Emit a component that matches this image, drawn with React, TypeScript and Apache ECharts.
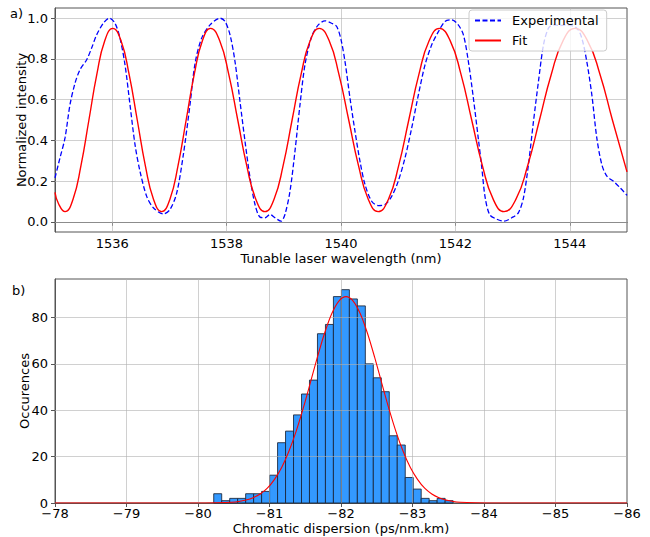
import React, { useEffect, useRef } from 'react';
import * as echarts from 'echarts';

// ---------- (a) Interference spectrum ----------
const expWavelength = [
  1535.0, 1535.087, 1535.175, 1535.262, 1535.35, 1535.437, 1535.554, 1535.64, 1535.728, 1535.845,
  1535.95, 1536.049, 1536.136, 1536.224, 1536.311, 1536.399, 1536.486, 1536.603, 1536.72, 1536.894,
  1537.01, 1537.128, 1537.244, 1537.36, 1537.45, 1537.564, 1537.71, 1537.885, 1537.972, 1538.06,
  1538.147, 1538.234, 1538.322, 1538.41, 1538.497, 1538.584, 1538.672, 1538.76, 1538.846, 1538.952,
  1539.02, 1539.108, 1539.195, 1539.283, 1539.37, 1539.487, 1539.603, 1539.72, 1539.837, 1539.925,
  1540.0, 1540.07, 1540.157, 1540.245, 1540.332, 1540.42, 1540.536, 1540.653, 1540.77, 1540.886,
  1541.0, 1541.119, 1541.236, 1541.353, 1541.469, 1541.586, 1541.703, 1541.818, 1541.935, 1542.05,
  1542.14, 1542.227, 1542.314, 1542.4, 1542.46, 1542.52, 1542.6, 1542.722, 1542.85, 1542.985,
  1543.1, 1543.19, 1543.277, 1543.365, 1543.452, 1543.54, 1543.627, 1543.714, 1543.83, 1543.947,
  1544.122, 1544.21, 1544.297, 1544.385, 1544.472, 1544.56, 1544.648, 1544.764, 1544.88, 1545.0,
];
const expIntensity = [
  0.216, 0.314, 0.412, 0.575, 0.681, 0.747, 0.796, 0.853, 0.918, 0.975,
  1.0, 0.975, 0.902, 0.771, 0.575, 0.379, 0.248, 0.125, 0.069, 0.039,
  0.06, 0.142, 0.33, 0.575, 0.78, 0.902, 0.967, 1.0, 0.984, 0.918,
  0.787, 0.591, 0.395, 0.216, 0.085, 0.023, 0.02, 0.036, 0.02, 0.003,
  0.036, 0.15, 0.346, 0.575, 0.771, 0.91, 0.967, 0.987, 0.975, 0.959,
  0.895, 0.787, 0.608, 0.444, 0.297, 0.183, 0.101, 0.08, 0.085, 0.125,
  0.199, 0.314, 0.461, 0.624, 0.771, 0.869, 0.934, 0.984, 0.992, 0.967,
  0.918, 0.787, 0.608, 0.41, 0.27, 0.12, 0.035, 0.013, 0.003, 0.02,
  0.044, 0.118, 0.281, 0.493, 0.689, 0.869, 0.951, 0.967, 0.964, 0.967,
  0.951, 0.902, 0.787, 0.624, 0.412, 0.281, 0.224, 0.199, 0.167, 0.13,
];

const fitWavelength = [
  1535.0, 1535.06, 1535.175, 1535.314, 1535.453, 1535.593, 1535.732, 1535.871,
  1536.01, 1536.153, 1536.295, 1536.438, 1536.58, 1536.723,
  1536.865, 1537.008, 1537.15, 1537.293, 1537.435, 1537.578,
  1537.72, 1537.878, 1538.037, 1538.195, 1538.353, 1538.512,
  1538.67, 1538.828, 1538.987, 1539.145, 1539.303, 1539.462,
  1539.62, 1539.792, 1539.963, 1540.135, 1540.307, 1540.478,
  1540.65, 1540.828, 1541.007, 1541.185, 1541.363, 1541.542,
  1541.72, 1541.908, 1542.097, 1542.285, 1542.473, 1542.662,
  1542.85, 1543.057, 1543.263, 1543.47, 1543.677, 1543.883,
  1544.09, 1544.308, 1544.527, 1544.745, 1545.0,
];
const fitIntensity = [
  0.145, 0.09, 0.05, 0.11, 0.275, 0.5, 0.725, 0.89,
  0.95, 0.89, 0.725, 0.5, 0.275, 0.11,
  0.05, 0.11, 0.275, 0.5, 0.725, 0.89,
  0.95, 0.89, 0.725, 0.5, 0.275, 0.11,
  0.05, 0.11, 0.275, 0.5, 0.725, 0.89,
  0.95, 0.89, 0.725, 0.5, 0.275, 0.11,
  0.05, 0.11, 0.275, 0.5, 0.725, 0.89,
  0.95, 0.89, 0.725, 0.5, 0.275, 0.11,
  0.05, 0.11, 0.275, 0.5, 0.725, 0.89,
  0.95, 0.89, 0.725, 0.5, 0.245,
];

const xTicksTop = [1536, 1538, 1540, 1542, 1544];
const yTicksTop = [0, 0.2, 0.4, 0.6, 0.8, 1.0];

// ---------- (b) Chromatic dispersion histogram ----------
const histBinStart = -80.22;
const histBinWidth = -0.1116;
const histCounts = [
  4, 1, 2, 2, 4, 4, 5, 12, 26, 31,
  38, 47, 53, 73, 77, 89, 92, 88, 85, 60,
  54, 48, 29, 25, 11, 6, 2, 1, 2, 1,
];

const gaussX = [
  -86, -84.5, -84.27, -84.07, -83.87, -83.67, -83.57, -83.47, -83.37, -83.27,
  -83.17, -83.07, -82.97, -82.87, -82.77, -82.67, -82.57, -82.47, -82.37, -82.27,
  -82.17, -82.07, -81.97, -81.87, -81.77, -81.67, -81.57, -81.47, -81.37, -81.27,
  -81.17, -81.07, -80.97, -80.87, -80.77, -80.67, -80.57, -80.47, -80.27, -80.07,
  -79.87, -79.6, -78,
];
const gaussY = [
  0, 0, 0, 0.015, 0.08, 0.34, 0.67, 1.3, 2.3, 3.9,
  6.4, 10.2, 15.3, 22.2, 30.7, 40.7, 51.7, 62.9, 73.2, 81.6,
  87.1, 89, 87.1, 81.6, 73.2, 62.9, 51.7, 40.7, 30.7, 22.2,
  15.3, 10.2, 6.4, 3.9, 2.3, 1.3, 0.67, 0.34, 0.08, 0.015,
  0, 0, 0,
];

const xGridBottom = [-85, -84, -83, -82, -81, -80, -79];
const yTicksBottom = [0, 20, 40, 60, 80];

const FONT = 'DejaVu Sans';
const AXIS_COLOR = '#555555';
const GRID_COLOR = 'rgba(176,176,176,0.6)';

const minus = (v: number) => String(v).replace('-', '\u2212');

function buildOption(): any {
  const expData = expWavelength.map((w, i) => [w, expIntensity[i]]);
  const fitData = fitWavelength.map((w, i) => [w, fitIntensity[i]]);
  const histData = histCounts.map((c, i) => [
    histBinStart + i * histBinWidth,
    histBinStart + (i + 1) * histBinWidth,
    c,
  ]);
  const gaussData = gaussX.map((x, i) => [x, gaussY[i]]);

  const nameStyle = { fontSize: 13, color: '#000', fontFamily: FONT };
  const labelStyle = { fontSize: 13, color: '#000', fontFamily: FONT };
  const gridLine = (arr: any[]) => ({
    silent: true,
    z: 1,
    symbol: ['none', 'none'],
    label: { show: false },
    lineStyle: { color: GRID_COLOR, width: 1, type: 'solid' },
    emphasis: { disabled: true },
    animation: false,
    data: arr,
  });

  return {
    animation: false,
    textStyle: { fontFamily: FONT },
    grid: [
      { left: 55, top: 8, width: 572, height: 224, show: true, borderColor: AXIS_COLOR, borderWidth: 1 },
      { left: 55, top: 279, width: 572, height: 224, show: true, borderColor: AXIS_COLOR, borderWidth: 1 },
    ],
    xAxis: [
      {
        type: 'value', gridIndex: 0, min: 1535, max: 1545,
        name: 'Tunable laser wavelength (nm)', nameLocation: 'middle', nameGap: 20, nameMoveOverlap: false,
        nameTextStyle: nameStyle,
        axisLine: { show: true, lineStyle: { color: AXIS_COLOR } },
        axisTick: { show: true, length: 4, customValues: xTicksTop, lineStyle: { color: AXIS_COLOR } },
        axisLabel: { ...labelStyle, customValues: xTicksTop, margin: 5, lineHeight: 12, formatter: (v: number) => String(v) },
        splitLine: { show: false },
      },
      {
        type: 'value', gridIndex: 1, min: -86, max: -78, interval: 1, inverse: true,
        name: 'Chromatic dispersion (ps/nm.km)', nameLocation: 'middle', nameGap: 19, nameMoveOverlap: false,
        nameTextStyle: nameStyle,
        axisLine: { show: true, lineStyle: { color: AXIS_COLOR } },
        axisTick: { show: true, length: 4, lineStyle: { color: AXIS_COLOR } },
        axisLabel: { ...labelStyle, margin: 5, lineHeight: 11, formatter: (v: number) => minus(v) },
        splitLine: { show: false },
      },
    ],
    yAxis: [
      {
        type: 'value', gridIndex: 0, min: -0.05, max: 1.05,
        name: 'Normalized intensity', nameLocation: 'middle', nameGap: 27, nameMoveOverlap: false,
        nameTextStyle: nameStyle,
        axisLine: { show: true, lineStyle: { color: AXIS_COLOR } },
        axisTick: { show: true, length: 4, customValues: yTicksTop, lineStyle: { color: AXIS_COLOR } },
        axisLabel: { ...labelStyle, customValues: yTicksTop, margin: 7, formatter: (v: number) => v.toFixed(1) },
        splitLine: { show: false },
      },
      {
        type: 'value', gridIndex: 1, min: 0, max: 96.6,
        name: 'Occurences', nameLocation: 'middle', nameGap: 24, nameMoveOverlap: false,
        nameTextStyle: nameStyle,
        axisLine: { show: true, lineStyle: { color: AXIS_COLOR } },
        axisTick: { show: true, length: 4, customValues: yTicksBottom, lineStyle: { color: AXIS_COLOR } },
        axisLabel: { ...labelStyle, customValues: yTicksBottom, margin: 7, lineHeight: 9 },
        splitLine: { show: false },
      },
    ],
    legend: {
      data: ['Experimental', 'Fit'],
      orient: 'vertical',
      left: 469,
      top: 10,
      itemWidth: 26,
      itemHeight: 12,
      itemGap: 7,
      padding: [4, 8, 4, 5],
      backgroundColor: 'rgba(255,255,255,0.8)',
      borderColor: '#cccccc',
      borderWidth: 1,
      borderRadius: 3,
      selectedMode: false,
      itemStyle: { opacity: 0 },
      textStyle: { fontSize: 13, color: '#000', fontFamily: FONT, padding: [0, 0, 0, 6] },
    },
    graphic: [
      { type: 'text', left: 10, top: 7, style: { text: 'a)', fontSize: 13, fill: '#000', fontFamily: FONT } },
      { type: 'text', left: 12, top: 284, style: { text: 'b)', fontSize: 13, fill: '#000', fontFamily: FONT } },
    ],
    series: [
      {
        name: 'Experimental', type: 'line', xAxisIndex: 0, yAxisIndex: 0,
        data: expData, showSymbol: false, symbol: 'none', smooth: 0.3, z: 2,
        lineStyle: { color: '#0000ff', width: 1.3, type: [5, 2.5] },
        itemStyle: { color: '#0000ff' },
        markLine: gridLine([
          ...xTicksTop.map((v) => ({ xAxis: v })),
          ...yTicksTop.map((v) => ({ yAxis: v })),
        ]),
      },
      {
        name: 'Fit', type: 'line', xAxisIndex: 0, yAxisIndex: 0,
        data: fitData, showSymbol: false, symbol: 'none', smooth: 0.5, z: 2,
        lineStyle: { color: '#ff0000', width: 1.4 },
        itemStyle: { color: '#ff0000' },
      },
      {
        name: 'Histogram', type: 'custom', xAxisIndex: 1, yAxisIndex: 1, z: 1,
        data: histData,
        encode: { x: [0, 1], y: 2 },
        renderItem: (params: any, api: any) => {
          const x0 = api.value(0);
          const x1 = api.value(1);
          const c = api.value(2);
          const pA = api.coord([x0, c]);
          const pB = api.coord([x1, 0]);
          return {
            type: 'rect',
            shape: {
              x: Math.min(pA[0], pB[0]),
              y: pA[1],
              width: Math.abs(pB[0] - pA[0]),
              height: pB[1] - pA[1],
            },
            style: { fill: '#3399ff', stroke: 'rgba(25,35,55,0.85)', lineWidth: 1 },
          };
        },
      },
      {
        name: 'Gaussian fit', type: 'line', xAxisIndex: 1, yAxisIndex: 1,
        data: gaussData, showSymbol: false, symbol: 'none', smooth: 0.3, z: 3,
        lineStyle: { color: '#ff0000', width: 1.1 },
        itemStyle: { color: '#ff0000' },
        markLine: { ...gridLine([
          ...xGridBottom.map((v) => ({ xAxis: v })),
          ...yTicksBottom.filter((v) => v > 0).map((v) => ({ yAxis: v })),
        ]), z: 2 },
      },
    ],
  };
}

export default function App() {
  const ref = useRef<HTMLDivElement>(null);
  useEffect(() => {
    document.body.style.margin = '0';
    const chart = echarts.init(ref.current as HTMLDivElement, null, { renderer: 'svg' });
    chart.setOption(buildOption());
    return () => {
      chart.dispose();
    };
  }, []);
  return <div ref={ref} style={{ width: 650, height: 537 }} />;
}
